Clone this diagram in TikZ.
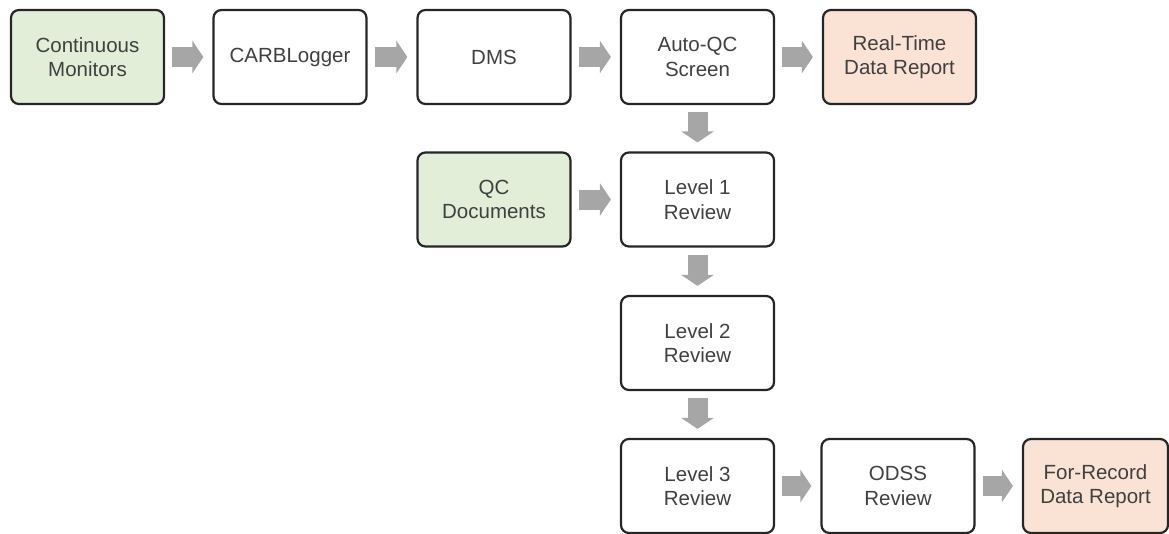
\documentclass[tikz,border=0pt]{standalone}
\usepackage{fontspec}
\setmainfont{Liberation Sans}
\usetikzlibrary{arrows.meta}
\definecolor{boxline}{HTML}{262626}
\definecolor{txt}{HTML}{404040}
\definecolor{greenfill}{HTML}{E2EED8}
\definecolor{orangefill}{HTML}{FAE3D4}
\definecolor{arrowgray}{HTML}{A6A6A6}
\tikzset{
  box/.style={draw=boxline, line width=2.2pt, rounded corners=8pt, fill=white,
    minimum width=153pt, minimum height=94pt, inner sep=0pt, align=center,
    text=txt, font=\fontsize{20.5}{24.5}\selectfont},
  greenbox/.style={box, fill=greenfill},
  orangebox/.style={box, fill=orangefill},
  fat/.style={draw=arrowgray, line width=20pt,
    -{Triangle[width=32pt,length=11pt]}, shorten <=7pt, shorten >=9pt}
}
\begin{document}
\begin{tikzpicture}[x=1pt,y=-1pt]
\useasboundingbox (0,0) rectangle (1169,533);
% row 1
\node[greenbox] (cm) at (87.5,57) {Continuous\\Monitors};
\node[box] (cl) at (290,57) {CARBLogger};
\node[box] (dms) at (494,57) {DMS};
\node[box] (aqc) at (697.5,57) {Auto-QC\\Screen};
\node[orangebox] (rt) at (899.5,57) {Real-Time\\Data Report};
% row 2
\node[greenbox] (qcd) at (494,199.5) {QC\\Documents};
\node[box] (l1) at (697.5,199.5) {Level 1\\Review};
% row 3
\node[box] (l2) at (697.5,343) {Level 2\\Review};
% row 4
\node[box] (l3) at (697.5,486) {Level 3\\Review};
\node[box] (odss) at (898,486) {ODSS\\Review};
\node[orangebox, minimum width=145pt] (fr) at (1095.5,486) {For-Record\\Data Report};
% arrows
\draw[fat] (cm) -- (cl);
\draw[fat] (cl) -- (dms);
\draw[fat] (dms) -- (aqc);
\draw[fat] (aqc) -- (rt);
\draw[fat] (qcd) -- (l1);
\draw[fat] (aqc) -- (l1);
\draw[fat] (l1) -- (l2);
\draw[fat] (l2) -- (l3);
\draw[fat] (l3) -- (odss);
\draw[fat] (odss) -- (fr);
\end{tikzpicture}
\end{document}
